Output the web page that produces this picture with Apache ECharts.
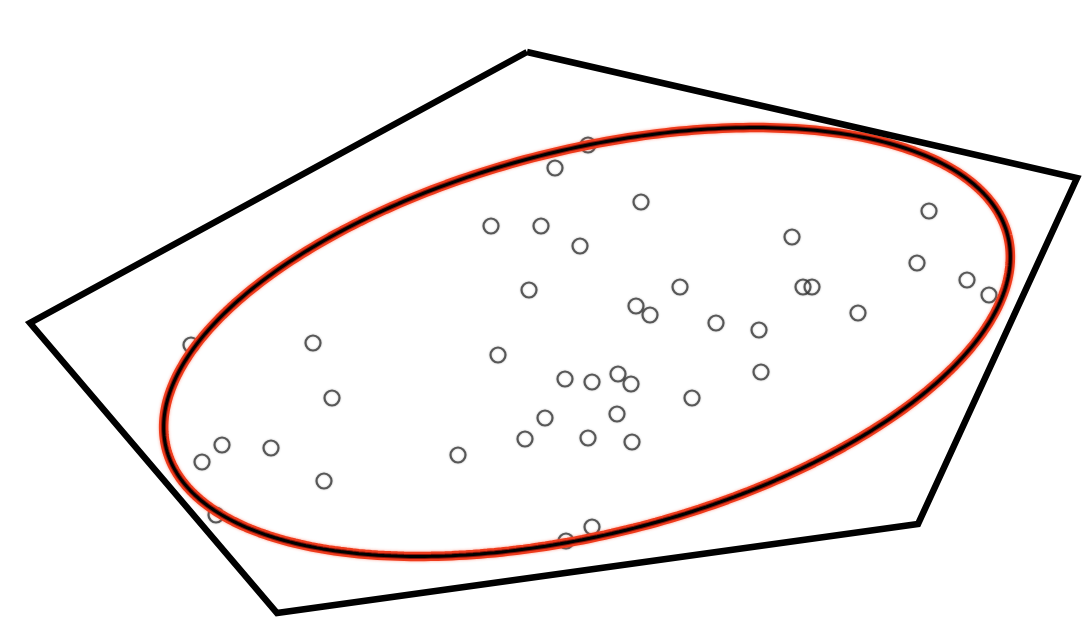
<!DOCTYPE html>
<html>
<head>
<meta charset="utf-8">
<script src="https://cdn.jsdelivr.net/npm/echarts@6/dist/echarts.min.js"></script>
<style>
html,body{margin:0;padding:0;background:#fff;}
#c{width:1089px;height:624px;}
</style>
</head>
<body>
<div id="c"></div>
<script>
// Scatter observations [x, y]
const pointsX = [58.8,55.5,64.1,49.1,54.1,58.0,92.9,79.2,91.7,96.7,80.3,81.2,68.0,52.9,98.9,63.6,65.0,71.6,75.9,85.8,19.1,31.3,49.8,56.5,59.2,61.8,63.1,76.1,33.2,69.2,61.7,54.5,52.5,58.8,63.2,22.2,20.2,27.1,45.8,32.4,21.6,59.2,56.6];
const pointsY = [47.9,45.6,42.2,39.8,39.8,37.8,41.3,38.7,36.1,34.4,33.7,33.7,33.7,33.4,32.9,31.8,30.9,30.1,29.4,31.1,27.9,28.1,26.9,24.5,24.2,25.0,24.0,25.2,22.6,22.6,21.0,20.6,18.5,18.6,18.2,17.9,16.2,17.6,16.9,14.3,10.9,9.7,8.3];
// Outer polygon (hull) vertices
const hullX = [52.7,107.7,91.8,27.7,3.0];
const hullY = [57.2,44.6,10.0,1.1,30.1];
// Ellipse parameters: center, semi-axes, rotation (degrees)
const ellipseCenter = [58.7, 28.2];
const ellipseAxes = [43.4, 19.2];
const ellipseAngle = 14.2;

const scatterData = pointsX.map((x, i) => [x, pointsY[i]]);
const hullData = hullX.map((x, i) => [x, hullY[i]]);
hullData.push(hullData[0]);

const ellData = [];
const th = ellipseAngle * Math.PI / 180;
for (let k = 0; k <= 360; k++) {
  const t = k * Math.PI / 180;
  const ca = ellipseAxes[0] * Math.cos(t), sb = ellipseAxes[1] * Math.sin(t);
  ellData.push([ellipseCenter[0] + ca * Math.cos(th) - sb * Math.sin(th),
                ellipseCenter[1] + ca * Math.sin(th) + sb * Math.cos(th)]);
}

const chart = echarts.init(document.getElementById('c'), null, {renderer: 'canvas'});
chart.setOption({
  animation: false,
  backgroundColor: '#ffffff',
  grid: {left: 0, right: 0, top: 0, bottom: 0, containLabel: false},
  xAxis: {type: 'value', min: 0, max: 108.9, show: false},
  yAxis: {type: 'value', min: 0, max: 62.4, show: false},
  series: [
    {
      type: 'scatter', data: scatterData, symbol: 'circle', symbolSize: 15, z: 2,
      itemStyle: {color: 'rgba(255,255,255,0)', borderColor: '#3a3a3a', borderWidth: 2.2,
                  shadowColor: 'rgba(0,0,0,0.35)', shadowBlur: 2}
    },
    {
      type: 'line', data: ellData, symbol: 'none', smooth: false, z: 3, silent: true,
      lineStyle: {color: '#ee3b1c', width: 9.5, shadowColor: 'rgba(255,90,60,0.6)', shadowBlur: 3}
    },
    {
      type: 'line', data: ellData, symbol: 'none', smooth: false, z: 4, silent: true,
      lineStyle: {color: '#8a1408', width: 5}
    },
    {
      type: 'line', data: ellData, symbol: 'none', smooth: false, z: 5, silent: true,
      lineStyle: {color: '#000000', width: 3}
    },
    {
      type: 'line', data: hullData, symbol: 'none', smooth: false, z: 6, silent: true,
      lineStyle: {color: '#000000', width: 6.5, join: 'miter'}
    }
  ]
});
</script>
</body>
</html>
